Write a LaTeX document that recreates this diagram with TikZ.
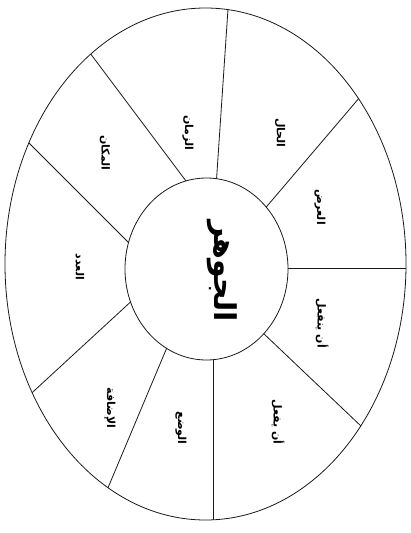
\documentclass[tikz,border=0pt]{standalone}
\usepackage{fontspec}
\newfontfamily\arabicfont[Script=Arabic]{DejaVu Sans}
\TeXXeTstate=1
\usetikzlibrary{calc}
\begin{document}
\begin{tikzpicture}[x=1pt,y=-1pt,line width=0.8pt,
  lbl/.style={font=\arabicfont\bfseries\fontsize{11}{13}\selectfont,rotate=-90,inner sep=0pt},
  ring/.style={draw=black!90,line width=0.8pt}]
\useasboundingbox (0,0) rectangle (411,533);
\coordinate (C) at (205.5,264);
\coordinate (I) at (206.5,269);
\begin{scope}
  \clip (C) ellipse [x radius=200.5, y radius=256];
  \foreach \xa/\ya/\xb/\yb in {216.7/176.7/228/9, 268/205/360/97, 288/268/407/268,
      263/333/362/427, 213/360/213/520, 168/345/110/483, 124/308/35/390,
      124/238/33/147, 183/177/93/57}{
    \draw[ring] ($(\xa,\ya)!-0.3!(\xb,\yb)$) -- ($(\xa,\ya)!1.3!(\xb,\yb)$);
  }
\end{scope}
\fill[white] (I) ellipse [x radius=81.5, y radius=91];
\draw[ring] (I) ellipse [x radius=81.5, y radius=91];
\draw[ring] (C) ellipse [x radius=200.5, y radius=256];
\node[rotate=-90,inner sep=0pt,font=\arabicfont\bfseries\fontsize{30}{36}\selectfont] (jawhar) at (222,271) {\beginR الجوهر\endR};
\node[lbl] (hal) at (280,133) {\beginR الحال\endR};
\node[lbl] (arad) at (320,207) {\beginR العرض\endR};
\node[lbl] (yanfail) at (322,323) {\beginR أن ينفعل\endR};
\node[lbl] (yafal) at (278,422) {\beginR أن يفعل\endR};
\node[lbl] (wad) at (181,428) {\beginR الوضع\endR};
\node[lbl] (idafa) at (110,408) {\beginR الإضافة\endR};
\node[lbl] (adad) at (80,267) {\beginR العدد\endR};
\node[lbl] (makan) at (105,153) {\beginR المكان\endR};
\node[lbl] (zaman) at (188,133) {\beginR الزمان\endR};
\end{tikzpicture}
\end{document}
